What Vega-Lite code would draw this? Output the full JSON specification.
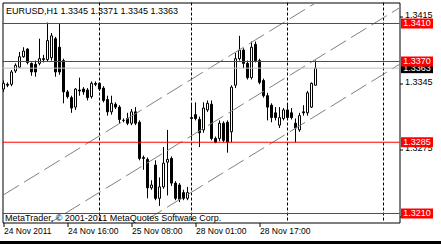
{
  "$schema": "https://vega.github.io/schema/vega-lite/v6.json",
  "width": 397,
  "height": 220,
  "autosize": {"type": "none"},
  "padding": {"left": 2.5, "top": 2.5, "right": 41.5, "bottom": 21.5},
  "background": "white",
  "config": {"view": {"stroke": "black", "strokeWidth": 1}, "font": "Liberation Sans", "scale": {"continuousPadding": 0}},
  "datasets": {
    "candles": [
      {"i":0,"time":"2011-11-24 00:00","open":1.3341,"high":1.3350,"low":1.3338,"close":1.3347},
      {"i":1,"time":"2011-11-24 01:00","open":1.3346,"high":1.3348,"low":1.3343,"close":1.3345},
      {"i":2,"time":"2011-11-24 02:00","open":1.3346,"high":1.3361,"low":1.3344,"close":1.3359},
      {"i":3,"time":"2011-11-24 03:00","open":1.3360,"high":1.3368,"low":1.3358,"close":1.3366},
      {"i":4,"time":"2011-11-24 04:00","open":1.3364,"high":1.3380,"low":1.3363,"close":1.3375},
      {"i":5,"time":"2011-11-24 05:00","open":1.3375,"high":1.3385,"low":1.3374,"close":1.3381},
      {"i":6,"time":"2011-11-24 06:00","open":1.3383,"high":1.3384,"low":1.3367,"close":1.3369},
      {"i":7,"time":"2011-11-24 07:00","open":1.3368,"high":1.3369,"low":1.3355,"close":1.3359},
      {"i":8,"time":"2011-11-24 08:00","open":1.3367,"high":1.3371,"low":1.3354,"close":1.3359},
      {"i":9,"time":"2011-11-24 09:00","open":1.3368,"high":1.3394,"low":1.3366,"close":1.3373},
      {"i":10,"time":"2011-11-24 10:00","open":1.3373,"high":1.3377,"low":1.3369,"close":1.3372},
      {"i":11,"time":"2011-11-24 11:00","open":1.3372,"high":1.3411,"low":1.3370,"close":1.3392},
      {"i":12,"time":"2011-11-24 12:00","open":1.3374,"high":1.3400,"low":1.3371,"close":1.3397},
      {"i":13,"time":"2011-11-24 13:00","open":1.3394,"high":1.3396,"low":1.3354,"close":1.3359},
      {"i":14,"time":"2011-11-24 14:00","open":1.3385,"high":1.3410,"low":1.3356,"close":1.3359},
      {"i":15,"time":"2011-11-24 15:00","open":1.3371,"high":1.3373,"low":1.3326,"close":1.3338},
      {"i":16,"time":"2011-11-24 16:00","open":1.3338,"high":1.3340,"low":1.3331,"close":1.3333},
      {"i":17,"time":"2011-11-24 17:00","open":1.3332,"high":1.3334,"low":1.3316,"close":1.3321},
      {"i":18,"time":"2011-11-24 18:00","open":1.3322,"high":1.3342,"low":1.3319,"close":1.3341},
      {"i":19,"time":"2011-11-24 19:00","open":1.3340,"high":1.3353,"low":1.3334,"close":1.3339},
      {"i":20,"time":"2011-11-24 20:00","open":1.3341,"high":1.3343,"low":1.3335,"close":1.3338},
      {"i":21,"time":"2011-11-24 21:00","open":1.3340,"high":1.3342,"low":1.3329,"close":1.3332},
      {"i":22,"time":"2011-11-24 22:00","open":1.3333,"high":1.3349,"low":1.3331,"close":1.3347},
      {"i":23,"time":"2011-11-24 23:00","open":1.3347,"high":1.3349,"low":1.3344,"close":1.3346},
      {"i":24,"time":"2011-11-25 00:00","open":1.3347,"high":1.3348,"low":1.3339,"close":1.3341},
      {"i":25,"time":"2011-11-25 01:00","open":1.3342,"high":1.3344,"low":1.3327,"close":1.3329},
      {"i":26,"time":"2011-11-25 02:00","open":1.3330,"high":1.3334,"low":1.3313,"close":1.3317},
      {"i":27,"time":"2011-11-25 03:00","open":1.3317,"high":1.3334,"low":1.3314,"close":1.3326},
      {"i":28,"time":"2011-11-25 04:00","open":1.3325,"high":1.3327,"low":1.3320,"close":1.3322},
      {"i":29,"time":"2011-11-25 05:00","open":1.3322,"high":1.3324,"low":1.3305,"close":1.3309},
      {"i":30,"time":"2011-11-25 06:00","open":1.3308,"high":1.3310,"low":1.3306,"close":1.3308},
      {"i":31,"time":"2011-11-25 07:00","open":1.3310,"high":1.3316,"low":1.3303,"close":1.3305},
      {"i":32,"time":"2011-11-25 08:00","open":1.3305,"high":1.3320,"low":1.3303,"close":1.3317},
      {"i":33,"time":"2011-11-25 09:00","open":1.3317,"high":1.3322,"low":1.3303,"close":1.3305},
      {"i":34,"time":"2011-11-25 10:00","open":1.3306,"high":1.3308,"low":1.3266,"close":1.3268},
      {"i":35,"time":"2011-11-25 11:00","open":1.3269,"high":1.3271,"low":1.3256,"close":1.3268},
      {"i":36,"time":"2011-11-25 12:00","open":1.3267,"high":1.3269,"low":1.3226,"close":1.3237},
      {"i":37,"time":"2011-11-25 13:00","open":1.3237,"high":1.3245,"low":1.3235,"close":1.3240},
      {"i":38,"time":"2011-11-25 14:00","open":1.3261,"high":1.3266,"low":1.3224,"close":1.3226},
      {"i":39,"time":"2011-11-25 15:00","open":1.3226,"high":1.3248,"low":1.3218,"close":1.3238},
      {"i":40,"time":"2011-11-25 16:00","open":1.3238,"high":1.3280,"low":1.3236,"close":1.3263},
      {"i":41,"time":"2011-11-25 17:00","open":1.3264,"high":1.3298,"low":1.3229,"close":1.3267},
      {"i":42,"time":"2011-11-25 18:00","open":1.3268,"high":1.3270,"low":1.3239,"close":1.3242},
      {"i":43,"time":"2011-11-25 19:00","open":1.3242,"high":1.3244,"low":1.3224,"close":1.3226},
      {"i":44,"time":"2011-11-25 20:00","open":1.3240,"high":1.3242,"low":1.3222,"close":1.3225},
      {"i":45,"time":"2011-11-25 21:00","open":1.3232,"high":1.3235,"low":1.3224,"close":1.3226},
      {"i":46,"time":"2011-11-25 22:00","open":1.3226,"high":1.3238,"low":1.3224,"close":1.3232},
      {"i":47,"time":"2011-11-28 00:00","open":1.3311,"high":1.3326,"low":1.3287,"close":1.3310},
      {"i":48,"time":"2011-11-28 01:00","open":1.3314,"high":1.3327,"low":1.3308,"close":1.3310},
      {"i":49,"time":"2011-11-28 02:00","open":1.3309,"high":1.3312,"low":1.3280,"close":1.3295},
      {"i":50,"time":"2011-11-28 03:00","open":1.3298,"high":1.3327,"low":1.3295,"close":1.3321},
      {"i":51,"time":"2011-11-28 04:00","open":1.3319,"high":1.3329,"low":1.3317,"close":1.3326},
      {"i":52,"time":"2011-11-28 05:00","open":1.3325,"high":1.3329,"low":1.3287,"close":1.3289},
      {"i":53,"time":"2011-11-28 06:00","open":1.3289,"high":1.3291,"low":1.3284,"close":1.3285},
      {"i":54,"time":"2011-11-28 07:00","open":1.3289,"high":1.3308,"low":1.3286,"close":1.3305},
      {"i":55,"time":"2011-11-28 08:00","open":1.3305,"high":1.3307,"low":1.3285,"close":1.3287},
      {"i":56,"time":"2011-11-28 09:00","open":1.3306,"high":1.3308,"low":1.3274,"close":1.3285},
      {"i":57,"time":"2011-11-28 10:00","open":1.3296,"high":1.3345,"low":1.3285,"close":1.3343},
      {"i":58,"time":"2011-11-28 11:00","open":1.3345,"high":1.3379,"low":1.3342,"close":1.3373},
      {"i":59,"time":"2011-11-28 12:00","open":1.3373,"high":1.3397,"low":1.3371,"close":1.3382},
      {"i":60,"time":"2011-11-28 13:00","open":1.3382,"high":1.3384,"low":1.3363,"close":1.3368},
      {"i":61,"time":"2011-11-28 14:00","open":1.3368,"high":1.3371,"low":1.3351,"close":1.3353},
      {"i":62,"time":"2011-11-28 15:00","open":1.3353,"high":1.3391,"low":1.3351,"close":1.3385},
      {"i":63,"time":"2011-11-28 16:00","open":1.3388,"high":1.3391,"low":1.3369,"close":1.3371},
      {"i":64,"time":"2011-11-28 17:00","open":1.3371,"high":1.3373,"low":1.3346,"close":1.3348},
      {"i":65,"time":"2011-11-28 18:00","open":1.3350,"high":1.3352,"low":1.3332,"close":1.3334},
      {"i":66,"time":"2011-11-28 19:00","open":1.3334,"high":1.3337,"low":1.3308,"close":1.3322},
      {"i":67,"time":"2011-11-28 20:00","open":1.3324,"high":1.3326,"low":1.3306,"close":1.3311},
      {"i":68,"time":"2011-11-28 21:00","open":1.3316,"high":1.3322,"low":1.3308,"close":1.3311},
      {"i":69,"time":"2011-11-28 22:00","open":1.3303,"high":1.3322,"low":1.3300,"close":1.3311},
      {"i":70,"time":"2011-11-28 23:00","open":1.3310,"high":1.3321,"low":1.3308,"close":1.3319},
      {"i":71,"time":"2011-11-29 00:00","open":1.3319,"high":1.3324,"low":1.3309,"close":1.3311},
      {"i":72,"time":"2011-11-29 01:00","open":1.3316,"high":1.3321,"low":1.3309,"close":1.3311},
      {"i":73,"time":"2011-11-29 02:00","open":1.3305,"high":1.3310,"low":1.3285,"close":1.3300},
      {"i":74,"time":"2011-11-29 03:00","open":1.3298,"high":1.3316,"low":1.3296,"close":1.3313},
      {"i":75,"time":"2011-11-29 04:00","open":1.3317,"high":1.3324,"low":1.3313,"close":1.3316},
      {"i":76,"time":"2011-11-29 05:00","open":1.3316,"high":1.3339,"low":1.3313,"close":1.3337},
      {"i":77,"time":"2011-11-29 06:00","open":1.3322,"high":1.3348,"low":1.3321,"close":1.3347},
      {"i":78,"time":"2011-11-29 07:00","open":1.3345,"high":1.3371,"low":1.3345,"close":1.3363}
    ],
    "separators": [{"i":24},{"i":47},{"i":71},{"i":95}],
    "channel": [
      {"line":"upper","i":0,"price":1.322963},
      {"line":"upper","i":99,"price":1.348599},
      {"line":"middle","i":0,"price":1.317016},
      {"line":"middle","i":99,"price":1.342652},
      {"line":"lower","i":0,"price":1.311068},
      {"line":"lower","i":99,"price":1.336704}
    ],
    "levels": [{"price":1.341},{"price":1.337},{"price":1.3285},{"price":1.321}],
    "bid": [{"price":1.3363}]
  },
  "layer": [
    {
      "data": {"name": "candles"},
      "mark": {"type": "rule", "color": "black", "strokeWidth": 1},
      "encoding": {
        "x": {"field": "i", "type": "quantitative",
              "scale": {"domain": [-0.25, 99], "nice": false, "zero": false, "padding": 0},
              "axis": {"orient": "bottom", "values": [0, 16, 32, 48, 64], "title": null,
                       "domain": false, "grid": false, "tickSize": 4, "tickColor": "black",
                       "labelAlign": "left", "labelPadding": 0, "labelFlush": false, "labelOverlap": false,
                       "labelFontSize": 8.5, "labelColor": "black", "labelFont": "Liberation Sans",
                       "labelExpr": "datum.value == 0 ? '24 Nov 2011' : datum.value == 16 ? '24 Nov 16:00' : datum.value == 32 ? '25 Nov 08:00' : datum.value == 48 ? '28 Nov 01:00' : '28 Nov 17:00'"}},
        "y": {"field": "low", "type": "quantitative",
              "scale": {"domain": [1.3200526, 1.3432105], "nice": false, "zero": false, "padding": 0},
              "axis": {"orient": "right", "values": [1.3415, 1.338, 1.3345, 1.331, 1.3275, 1.324, 1.3205],
                       "format": ".4f", "title": null, "domain": false, "grid": false,
                       "tickSize": 3, "tickColor": "black", "labelPadding": 2, "labelFlush": false,
                       "labelOverlap": false, "labelBound": false, "labelOffset": -2, "tickOffset": -2,
                       "labelFontSize": 9, "labelColor": "black", "labelFont": "Liberation Sans"}},
        "y2": {"field": "high"}
      }
    },
    {
      "data": {"name": "candles"},
      "mark": {"type": "bar", "size": 2, "stroke": "black", "strokeWidth": 1, "orient": "vertical"},
      "encoding": {
        "x": {"field": "i", "type": "quantitative"},
        "y": {"field": "open", "type": "quantitative"},
        "y2": {"field": "close"},
        "fill": {"condition": {"test": "datum.close > datum.open", "value": "white"}, "value": "black"}
      }
    },
    {
      "data": {"name": "separators"},
      "mark": {"type": "rule", "color": "black", "strokeWidth": 1, "strokeDash": [3, 2]},
      "encoding": {
        "x": {"field": "i", "type": "quantitative"}
      }
    },
    {
      "data": {"name": "channel"},
      "mark": {"type": "line", "color": "#808080", "strokeWidth": 1, "strokeDash": [18, 6], "clip": true},
      "encoding": {
        "x": {"field": "i", "type": "quantitative"},
        "y": {"field": "price", "type": "quantitative"},
        "detail": {"field": "line"}
      }
    },
    {
      "data": {"name": "bid"},
      "mark": {"type": "rule", "color": "#c0c0c0", "strokeWidth": 1},
      "encoding": {
        "y": {"field": "price", "type": "quantitative"}
      }
    },
    {
      "data": {"name": "levels"},
      "mark": {"type": "rule", "color": "#ff0000", "strokeWidth": 1},
      "encoding": {
        "y": {"field": "price", "type": "quantitative"}
      }
    },
    {
      "data": {"name": "bid"},
      "mark": {"type": "bar", "orient": "horizontal", "size": 10, "color": "black"},
      "encoding": {
        "x": {"datum": 99.375, "type": "quantitative"},
        "x2": {"datum": 107.375},
        "y": {"field": "price", "type": "quantitative"}
      }
    },
    {
      "data": {"name": "bid"},
      "mark": {"type": "text", "color": "white", "fontSize": 9, "font": "Liberation Sans", "align": "center", "baseline": "middle"},
      "encoding": {
        "x": {"datum": 103.375, "type": "quantitative"},
        "y": {"field": "price", "type": "quantitative"},
        "text": {"field": "price", "type": "quantitative", "format": ".4f"}
      }
    },
    {
      "data": {"name": "levels"},
      "mark": {"type": "bar", "orient": "horizontal", "size": 10, "color": "#ff0000"},
      "encoding": {
        "x": {"datum": 99.375, "type": "quantitative"},
        "x2": {"datum": 107.375},
        "y": {"field": "price", "type": "quantitative"}
      }
    },
    {
      "data": {"name": "levels"},
      "mark": {"type": "text", "color": "white", "fontSize": 9, "font": "Liberation Sans", "align": "center", "baseline": "middle"},
      "encoding": {
        "x": {"datum": 103.375, "type": "quantitative"},
        "y": {"field": "price", "type": "quantitative"},
        "text": {"field": "price", "type": "quantitative", "format": ".4f"}
      }
    },
    {
      "data": {"values": [{"label": "EURUSD,H1  1.3345 1.3371 1.3345 1.3363"}]},
      "mark": {"type": "text", "color": "black", "fontSize": 9, "font": "Liberation Sans", "align": "left", "baseline": "middle"},
      "encoding": {
        "x": {"datum": 0.625, "type": "quantitative"},
        "y": {"datum": 1.3423158, "type": "quantitative"},
        "text": {"field": "label"}
      }
    },
    {
      "data": {"values": [{"label": "MetaTrader, © 2001-2011 MetaQuotes Software Corp."}]},
      "mark": {"type": "text", "color": "black", "fontSize": 9, "font": "Liberation Sans", "align": "left", "baseline": "middle"},
      "encoding": {
        "x": {"datum": 0.375, "type": "quantitative"},
        "y": {"datum": 1.320474, "type": "quantitative"},
        "text": {"field": "label"}
      }
    },
    {
      "data": {"values": [{}]},
      "mark": {"type": "rect", "color": "black"},
      "encoding": {
        "x": {"datum": -1, "type": "quantitative"},
        "x2": {"datum": 110},
        "y": {"datum": 1.318105, "type": "quantitative"},
        "y2": {"datum": 1.316}
      }
    }
  ]
}
